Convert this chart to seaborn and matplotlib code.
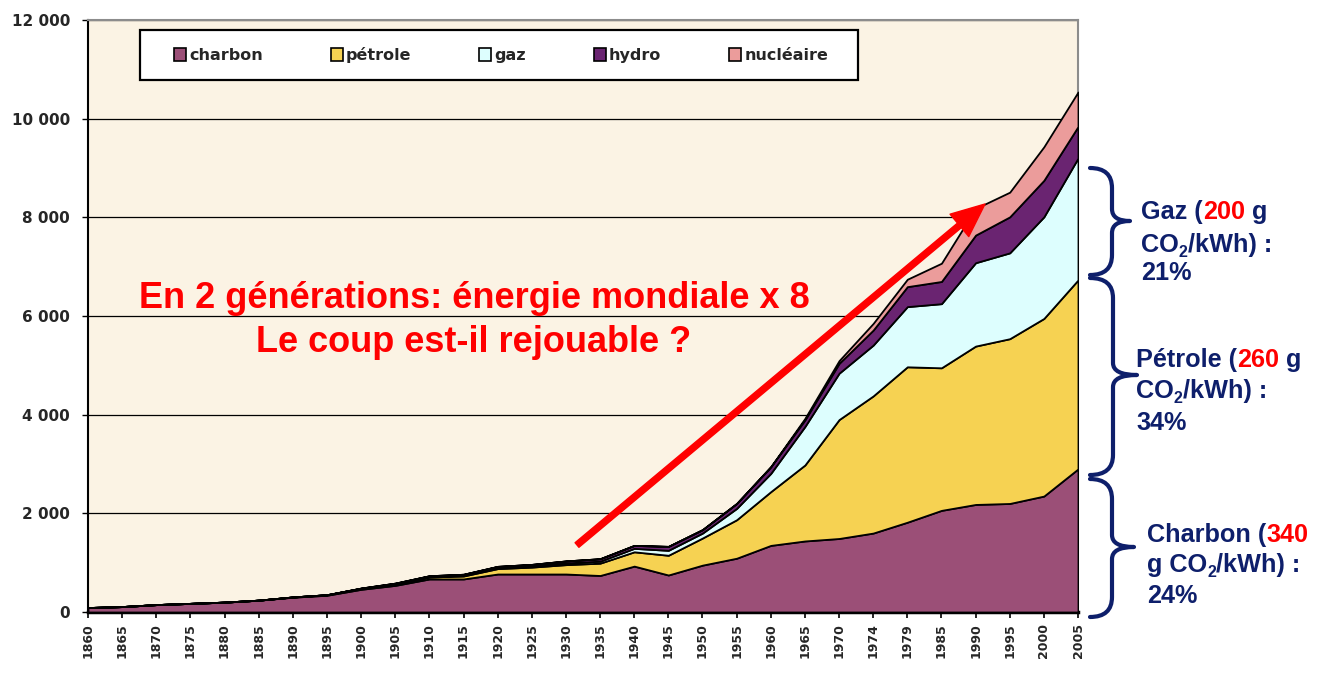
import numpy as np
import pandas as pd
import matplotlib
matplotlib.use('Agg')
import matplotlib.pyplot as plt
import seaborn as sns
from matplotlib.patches import Rectangle, PathPatch, Patch
from matplotlib.path import Path

# ---------------- data ----------------
years = ['1860', '1865', '1870', '1875', '1880', '1885', '1890', '1895', '1900', '1905',
         '1910', '1915', '1920', '1925', '1930', '1935', '1940', '1945', '1950', '1955',
         '1960', '1965', '1970', '1974', '1979', '1985', '1990', '1995', '2000', '2005']
charbon = [90, 110, 150, 175, 200, 240, 300, 340, 460, 540,
           670, 670, 770, 770, 770, 740, 930, 750, 950, 1090,
           1350, 1440, 1490, 1600, 1820, 2060, 2180, 2200, 2350, 2900]
petrole = [0, 0, 0, 0, 0, 0, 5, 10, 20, 30,
           40, 60, 110, 140, 190, 250, 290, 400, 550, 780,
           1090, 1540, 2410, 2780, 3150, 2890, 3210, 3340, 3600, 3830]
gaz = [0, 0, 0, 0, 0, 0, 0, 0, 0, 5,
       10, 15, 20, 25, 35, 40, 70, 100, 100, 230,
       370, 780, 940, 1030, 1220, 1300, 1690, 1740, 2060, 2470]
hydro = [0, 0, 0, 0, 0, 0, 0, 0, 5, 10,
         15, 20, 25, 30, 40, 50, 60, 80, 70, 100,
         135, 135, 200, 305, 405, 450, 560, 730, 740, 640]
nucleaire = [0, 0, 0, 0, 0, 0, 0, 0, 0, 0,
             0, 0, 0, 0, 0, 0, 0, 0, 0, 0,
             0, 30, 55, 135, 150, 370, 540, 500, 680, 700]
series_names = ['charbon', 'pétrole', 'gaz', 'hydro', 'nucléaire']
series_colors = ['#9B4F77', '#F6D252', '#DDFEFE', '#6A2471', '#EB9C9B']
yticks = [0, 2000, 4000, 6000, 8000, 10000, 12000]
ytick_labels = ['0', '2 000', '4 000', '6 000', '8 000', '10 000', '12 000']

# ---------------- figure ----------------
sns.set_theme(style='white')
plt.rcParams['font.family'] = ['DejaVu Sans']

W, H = 1321, 679
fig = plt.figure(figsize=(W / 100, H / 100), dpi=100)
fig.patch.set_facecolor('white')

def fx(px):
    return px / W

def fy(py):
    return 1 - py / H

ax = fig.add_axes([fx(88), fy(612), (1078 - 88) / W, (612 - 20) / H])
ax.set_facecolor('#FBF3E4')

df = pd.DataFrame({'charbon': charbon, 'pétrole': petrole, 'gaz': gaz,
                   'hydro': hydro, 'nucléaire': nucleaire}, index=years)
xpos = np.arange(len(years))
ax.stackplot(xpos, [df[c].values for c in series_names], colors=series_colors,
             edgecolor='black', linewidth=1.3, zorder=3)

ax.set_xlim(0, len(years) - 1)
ax.set_ylim(0, 12000)
ax.set_yticks(yticks)
ax.set_yticklabels(ytick_labels, fontsize=11, fontweight='bold')
ax.set_xticks(xpos)
ax.set_xticklabels(years, rotation=90, fontsize=9, fontweight='bold')
ax.tick_params(axis='y', left=True, length=4, width=1, color='black', pad=9, direction='out')
ax.tick_params(axis='x', bottom=True, length=4, width=1.2, color='black', pad=4, direction='out')
ax.yaxis.grid(True, color='black', linewidth=0.9)
ax.xaxis.grid(False)
ax.set_axisbelow(True)
for s in ['top', 'right']:
    ax.spines[s].set_color('#8C8C8C')
    ax.spines[s].set_linewidth(1.5)
ax.spines['left'].set_color('black')
ax.spines['left'].set_linewidth(1.5)
ax.spines['bottom'].set_color('black')
ax.spines['bottom'].set_linewidth(2.5)

# ---------------- legend ----------------
fig.add_artist(Rectangle((fx(140), fy(80)), 718 / W, 50 / H, transform=fig.transFigure,
                         facecolor='white', edgecolor='black', linewidth=1.6, zorder=4))
handles = [Patch(facecolor=c, edgecolor='black', linewidth=1.2) for c in series_colors]
leg = fig.legend(handles, series_names, loc='center', bbox_to_anchor=(fx(501), fy(55)),
                 ncol=5, frameon=False, prop=dict(weight='bold', size=11.5),
                 handlelength=0.75, handleheight=0.95, handletextpad=0.2,
                 columnspacing=4.25)
leg.set_zorder(5)

# ---------------- red annotation ----------------
fig.text(fx(474), fy(308), 'En 2 générations: énergie mondiale x 8', ha='center', va='baseline',
         color='#FF0000', fontsize=26, fontweight='bold', family='Liberation Sans', zorder=6)
fig.text(fx(474), fy(352), 'Le coup est-il rejouable ?', ha='center', va='baseline',
         color='#FF0000', fontsize=26, fontweight='bold', family='Liberation Sans', zorder=6)
ax.annotate('', xy=(985, H - 204), xycoords='figure pixels',
            xytext=(577, H - 545), textcoords='figure pixels',
            arrowprops=dict(facecolor='#FF0000', edgecolor='#FF0000', width=4.3,
                            headwidth=21, headlength=24, shrink=0),
            annotation_clip=False, zorder=6)

# ---------------- braces ----------------
NAVY = '#0E1F6B'

def brace(x_end, x_stem, x_tip, y_top, y_tip, y_bot, r=20, rt=12):
    pts = [(x_end, y_top), (x_stem, y_top), (x_stem, y_top + r),
           (x_stem, y_tip - rt), (x_stem, y_tip), (x_tip, y_tip),
           (x_stem, y_tip), (x_stem, y_tip + rt),
           (x_stem, y_bot - r), (x_stem, y_bot), (x_end, y_bot)]
    codes = [Path.MOVETO, Path.CURVE3, Path.CURVE3,
             Path.LINETO, Path.CURVE3, Path.CURVE3,
             Path.CURVE3, Path.CURVE3,
             Path.LINETO, Path.CURVE3, Path.CURVE3]
    verts = [(fx(a), fy(b)) for a, b in pts]
    fig.add_artist(PathPatch(Path(verts, codes), transform=fig.transFigure, fill=False,
                             edgecolor=NAVY, linewidth=3, capstyle='round', joinstyle='round'))

brace(1090, 1112, 1130, 168, 221, 275)
brace(1090, 1113, 1137, 278, 375, 475)
brace(1090, 1112, 1134, 479, 547, 617)

# ---------------- rich text on the right ----------------
renderer = fig.canvas.get_renderer()
FS = 18.2

def text_width(s, **kw):
    t1 = fig.text(0, 0, '|' + s + '|', **kw)
    w1 = t1.get_window_extent(renderer).width
    t1.remove()
    t0 = fig.text(0, 0, '||', **kw)
    w0 = t0.get_window_extent(renderer).width
    t0.remove()
    return w1 - w0

def rich_line(x, y, segments):
    for s, color, size, dy in segments:
        kw = dict(fontsize=size, fontweight='bold', family='Liberation Sans')
        lead = len(s) - len(s.lstrip(' '))
        xoff = text_width(' ' * lead, **kw) if lead else 0
        fig.text(fx(x + xoff), fy(y + dy), s.strip(' '), color=color, ha='left',
                 va='baseline', **kw)
        x += text_width(s, **kw)

RED = '#FF0000'
SUB = 11.5

rich_line(1141, 219, [('Gaz (', NAVY, FS, 0), ('200', RED, FS, 0), (' g', NAVY, FS, 0)])
rich_line(1141, 252, [('CO', NAVY, FS, 0), ('2', NAVY, SUB, 5), ('/kWh) :', NAVY, FS, 0)])
rich_line(1141, 280, [('21%', NAVY, FS, 0)])

rich_line(1136, 367, [('Pétrole (', NAVY, FS, 0), ('260', RED, FS, 0), (' g', NAVY, FS, 0)])
rich_line(1136, 398, [('CO', NAVY, FS, 0), ('2', NAVY, SUB, 5), ('/kWh) :', NAVY, FS, 0)])
rich_line(1136, 430, [('34%', NAVY, FS, 0)])

rich_line(1147, 542, [('Charbon (', NAVY, FS, 0), ('340', RED, FS, 0)])
rich_line(1147, 572, [('g CO', NAVY, FS, 0), ('2', NAVY, SUB, 5), ('/kWh) :', NAVY, FS, 0)])
rich_line(1147, 603, [('24%', NAVY, FS, 0)])

fig.savefig('out.png', dpi=100, facecolor='white')
